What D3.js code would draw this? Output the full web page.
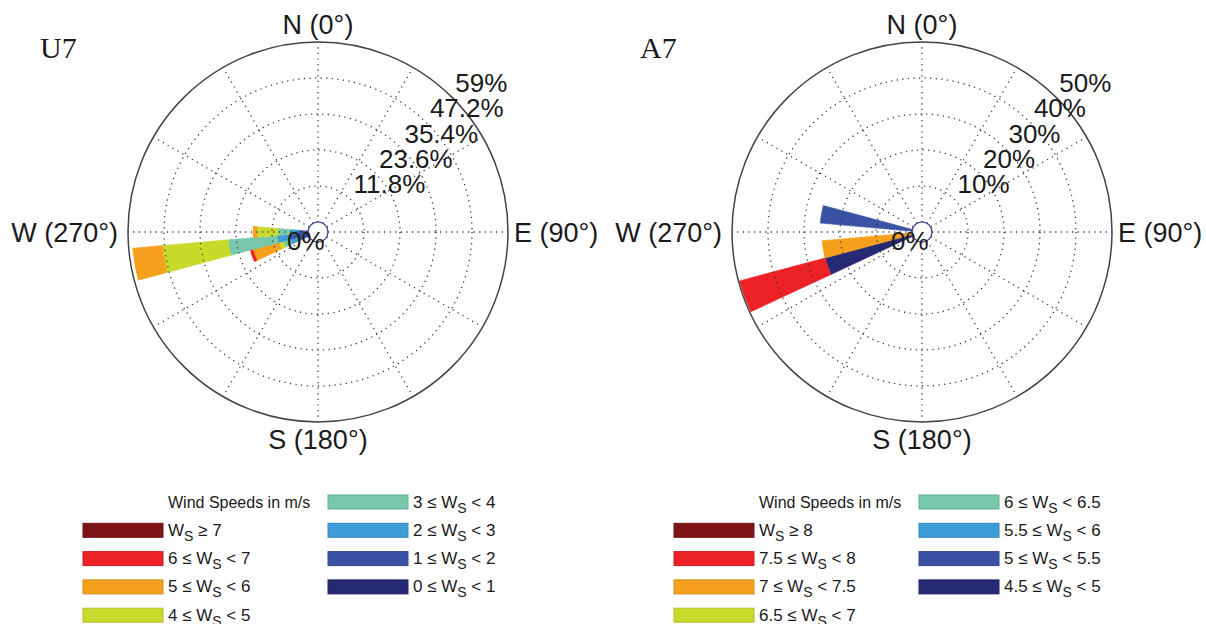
<!DOCTYPE html>
<html><head><meta charset="utf-8">
<script src="https://cdn.jsdelivr.net/npm/d3@7"></script>
<style>body{margin:0;background:#fff} svg{display:block;background:#fff}</style>
</head><body>
<svg id="chart" width="1206" height="624"></svg>
<script>
// ---------- data ----------
const cardinalLabels = ["N (0°)", "E (90°)", "S (180°)", "W (270°)"];
const binColors = ["#262973", "#3a52a3", "#3e9dd7", "#77c8ab", "#c8db2b", "#f6a01d", "#ec2227", "#7d1517"]; // lowest -> highest bin

// U7 panel
const u7Title = "U7";
const u7Dirs = [250, 260, 270];          // compass bin centres (deg)
const u7Ticks = ["0%", "11.8%", "23.6%", "35.4%", "47.2%", "59%"];
const u7Max = 59;
const u7Ws0to1 = [0.8, 1.0, 0.8];
const u7Ws1to2 = [2.7, 4.9, 2.5];
const u7Ws2to3 = [2.5, 4.3, 2.4];
const u7Ws3to4 = [2.5, 16.1, 4.1];
const u7Ws4to5 = [1.5, 21.6, 6.9];
const u7Ws5to6 = [8.8, 9.8, 1.3];
const u7Ws6to7 = [0.9, 0, 0];
const u7Ws7up = [0, 0, 0];
const u7Low = ["0", "1", "2", "3", "4", "5", "6", "7"];
const u7High = ["1", "2", "3", "4", "5", "6", "7", null];

// A7 panel
const a7Title = "A7";
const a7Dirs = [250, 260, 280];
const a7Ticks = ["0%", "10%", "20%", "30%", "40%", "50%"];
const a7Max = 50;
const a7Ws45to5 = [25.1, 0, 0];
const a7Ws5to55 = [0, 0, 25.6];
const a7Ws55to6 = [0, 0, 0];
const a7Ws6to65 = [0, 0, 0];
const a7Ws65to7 = [0, 0, 0];
const a7Ws7to75 = [0, 25.1, 0];
const a7Ws75to8 = [24.6, 0, 0];
const a7Ws8up = [0, 0, 0];
const a7Low = ["4.5", "5", "5.5", "6", "6.5", "7", "7.5", "8"];
const a7High = ["5", "5.5", "6", "6.5", "7", "7.5", "8", null];

// ---------- drawing ----------
const svg = d3.select("#chart");
const R0 = 10, R1 = 190, binWidth = 10;
const sansFont = "'Liberation Sans', Arial, Helvetica, sans-serif";

function drawRose(cx, cy, title, titleX, dirs, series, ticks, maxV) {
  const g = svg.append("g").attr("transform", `translate(${cx},${cy})`);
  const r = d3.scaleLinear().domain([0, maxV]).range([R0, R1]);
  const rad = d => d * Math.PI / 180;
  const arc = d3.arc();

  // bars (stacked by wind speed bin)
  dirs.forEach((dir, di) => {
    let cum = 0;
    series.forEach((s, si) => {
      const v = s[di];
      if (v > 0) {
        g.append("path")
          .attr("d", arc({innerRadius: r(cum), outerRadius: r(cum + v),
                          startAngle: rad(dir - binWidth / 2), endAngle: rad(dir + binWidth / 2)}))
          .attr("fill", binColors[si])
          .attr("stroke", binColors[si]).attr("stroke-width", 0.6);
      }
      cum += v;
    });
  });

  // grid: dotted rings
  const nRings = ticks.length - 1;
  for (let i = 1; i < nRings; i++) {
    g.append("circle").attr("r", r(maxV * i / nRings))
      .attr("fill", "none").attr("stroke", "#333").attr("stroke-width", 1.3)
      .attr("stroke-dasharray", "1.2,4.4");
  }
  // spokes every 30 deg
  for (let a = 0; a < 360; a += 30) {
    const t = rad(a);
    g.append("line")
      .attr("x1", R0 * Math.sin(t)).attr("y1", -R0 * Math.cos(t))
      .attr("x2", R1 * Math.sin(t)).attr("y2", -R1 * Math.cos(t))
      .attr("stroke", "#333").attr("stroke-width", 1.3).attr("stroke-dasharray", "1.2,4.4");
  }
  // outer circle
  g.append("circle").attr("r", R1).attr("fill", "none").attr("stroke", "#444").attr("stroke-width", 1.5);
  // inner calm circle
  g.append("circle").attr("r", R0).attr("fill", "none").attr("stroke", "#2f3c96").attr("stroke-width", 1.2);

  // cardinal labels
  const lab = g.append("g").attr("font-family", sansFont).attr("font-size", 27).attr("fill", "#1a1a1a");
  lab.append("text").attr("x", 0).attr("y", -198).attr("text-anchor", "middle").text(cardinalLabels[0]);
  lab.append("text").attr("x", 196).attr("y", 9.5).attr("text-anchor", "start").text(cardinalLabels[1]);
  lab.append("text").attr("x", 0).attr("y", 217).attr("text-anchor", "middle").text(cardinalLabels[2]);
  lab.append("text").attr("x", -200).attr("y", 9.5).attr("text-anchor", "end").text(cardinalLabels[3]);

  // radial tick labels
  const tl = g.append("g").attr("font-family", sansFont).attr("font-size", 26).attr("fill", "#1a1a1a");
  ticks.forEach((t, i) => {
    if (i === 0) {
      tl.append("text").attr("x", -31).attr("y", 18).text(t);
    } else {
      const rr = r(maxV * i / nRings);
      tl.append("text")
        .attr("x", rr * Math.SQRT1_2 + 3).attr("y", -rr * Math.SQRT1_2 - 6).text(t);
    }
  });

  // panel title
  svg.append("text").attr("x", titleX).attr("y", 58)
    .attr("font-family", "'Liberation Serif', 'Times New Roman', serif")
    .attr("font-size", 30).attr("fill", "#1a1a1a").text(title);
}

function drawLegend(x0, lows, highs) {
  const g = svg.append("g").attr("font-family", sansFont).attr("fill", "#1a1a1a");
  const rowY = k => 502 + k * 28.3;
  const col1Swatch = x0, col2Swatch = x0 + 245;
  g.append("text").attr("x", x0 + 85).attr("y", rowY(0) + 5.5).attr("font-size", 16).text("Wind Speeds in m/s");
  for (let k = 0; k < 8; k++) {
    const bin = 7 - k;
    const col = k < 4 ? 0 : 1;
    const row = col === 0 ? k + 1 : k - 4;
    const sx = col === 0 ? col1Swatch : col2Swatch;
    const y = rowY(row);
    const c = d3.color(binColors[bin]);
    g.append("rect").attr("x", sx).attr("y", y - 7).attr("width", 80).attr("height", 14)
      .attr("fill", binColors[bin]).attr("stroke", c.darker(0.4)).attr("stroke-width", 1);
    const t = g.append("text").attr("x", sx + 85).attr("y", y + 5.5).attr("font-size", 17);
    if (highs[bin] === null) {
      t.append("tspan").text("W");
      t.append("tspan").attr("dy", 5).attr("font-size", 14).text("S");
      t.append("tspan").attr("dy", -5).text(" \u2265 " + lows[bin]);
    } else {
      t.append("tspan").text(lows[bin] + " \u2264 W");
      t.append("tspan").attr("dy", 5).attr("font-size", 14).text("S");
      t.append("tspan").attr("dy", -5).text(" < " + highs[bin]);
    }
  }
}

drawRose(318, 232, u7Title, 40, u7Dirs,
  [u7Ws0to1, u7Ws1to2, u7Ws2to3, u7Ws3to4, u7Ws4to5, u7Ws5to6, u7Ws6to7, u7Ws7up], u7Ticks, u7Max);
drawRose(922, 232, a7Title, 640, a7Dirs,
  [a7Ws45to5, a7Ws5to55, a7Ws55to6, a7Ws6to65, a7Ws65to7, a7Ws7to75, a7Ws75to8, a7Ws8up], a7Ticks, a7Max);
drawLegend(83, u7Low, u7High);
drawLegend(674, a7Low, a7High);
</script>
</body></html>
